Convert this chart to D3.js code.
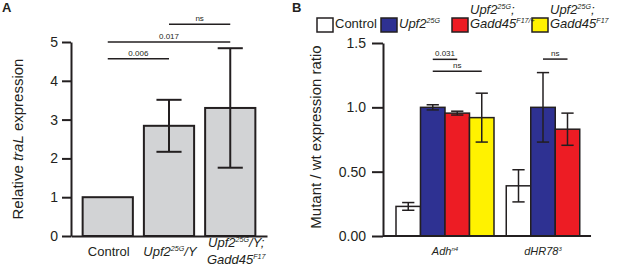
<!DOCTYPE html>
<html>
<head>
<meta charset="utf-8">
<script src="https://cdn.jsdelivr.net/npm/d3@7"></script>
<style>
body { margin: 0; background: #fff; }
svg text { font-family: "Liberation Sans", Arial, sans-serif; fill: #231f20; }
</style>
</head>
<body>
<div id="chart"></div>
<script>

// ---- Panel A data
var groupsA = ["Control", "Upf2^{25G}/Y", "Upf2^{25G}/Y;|Gadd45^{F17}"];
var italicA = [false, true, true];
var meanA = [1.0, 2.84, 3.3];
var errA = [0, 0.67, 1.54];
var ticksA = [0, 1, 2, 3, 4, 5];
var sigA = [
    { from: 0, to: 1, y: 4.57, label: "0.006" },
    { from: 0, to: 2, y: 5.0, label: "0.017" },
    { from: 1, to: 2, y: 5.46, label: "ns" }
];

// ---- Panel B data
var genotypes = ["Control", "Upf2^{25G}", "Upf2^{25G};|Gadd45^{F17/+}", "Upf2^{25G};|Gadd45^{F17}"];
var genotypeColors = ["#ffffff", "#2e3192", "#ed1c24", "#fff200"];
var genes = ["Adh^{n4}", "dHR78^{3}"];
var adhMean = [0.23, 1.0, 0.955, 0.92];
var adhErr = [0.03, 0.02, 0.015, 0.19];
var dhrMean = [0.39, 1.0, 0.83];
var dhrErr = [0.125, 0.27, 0.125];
var ticksB = [0, 0.5, 1.0, 1.5];
var tickLabelsB = ["0.00", "0.50", "1.0", "1.5"];
var sigB = [
    { gene: 0, from: 1, to: 2, y: 1.373, label: "0.031" },
    { gene: 0, from: 1, to: 3, y: 1.28, label: "ns" },
    { gene: 1, from: 1, to: 2, y: 1.375, label: "ns" }
];

var width = 617, height = 266;
var ink = "#231f20";

var svg = d3.select("#chart").append("svg")
    .attr("width", width)
    .attr("height", height);

// writes "abc^{sup}def" as tspans, size in px
function richText(sel, str, italic, size) {
    var parts = str.split(/(\^\{[^}]*\})/);
    var shifted = false;
    parts.forEach(function(p) {
        if (!p) return;
        var t = sel.append("tspan");
        if (p.charAt(0) === "^") {
            t.text(p.slice(2, -1))
                .style("font-size", (size * 0.55) + "px")
                .attr("dy", -size * 0.38);
            shifted = true;
        } else {
            t.text(p).style("font-size", size + "px");
            if (shifted) { t.attr("dy", size * 0.38); shifted = false; }
        }
        if (italic) t.style("font-style", "italic");
    });
}

function multiLine(g, str, x, y, italic, size, lineH, anchor) {
    str.split("|").forEach(function(line, i) {
        var t = g.append("text")
            .attr("x", x)
            .attr("y", y + i * lineH)
            .attr("text-anchor", anchor);
        richText(t, line, italic, size);
    });
}

function styleAxis(g, w) {
    g.select(".domain").attr("stroke", ink).attr("stroke-width", w);
    g.selectAll(".tick line").attr("stroke", ink).attr("stroke-width", w);
    g.selectAll(".tick text").style("font-size", "14px").attr("fill", ink);
}

// panel letters
svg.append("text").attr("x", 2).attr("y", 12).style("font-size", "13px").style("font-weight", "bold").text("A");
svg.append("text").attr("x", 292).attr("y", 12).style("font-size", "13px").style("font-weight", "bold").text("B");


/*
 *  Panel A
 */
var xA = d3.scaleBand()
    .domain(groupsA)
    .range([71, 267])
    .paddingInner(0.18)
    .paddingOuter(0.19);

var yA = d3.scaleLinear()
    .domain([0, 5])
    .range([236, 42]);

var gA = svg.append("g");

gA.selectAll(".barA")
    .data(meanA)
    .enter().append("rect")
    .attr("class", "barA")
    .attr("x", function(d, i) { return xA(groupsA[i]); })
    .attr("y", function(d) { return yA(d); })
    .attr("width", xA.bandwidth())
    .attr("height", function(d) { return yA(0) - yA(d); })
    .attr("fill", "#d2d3d5")
    .attr("stroke", ink)
    .attr("stroke-width", 2);

// error bars
meanA.forEach(function(m, i) {
    if (!errA[i]) return;
    var cx = xA(groupsA[i]) + xA.bandwidth() / 2;
    var cap = xA.bandwidth() / 4;
    gA.append("line").attr("x1", cx).attr("x2", cx)
        .attr("y1", yA(m + errA[i])).attr("y2", yA(m - errA[i]))
        .attr("stroke", ink).attr("stroke-width", 2);
    [m + errA[i], m - errA[i]].forEach(function(v) {
        gA.append("line").attr("x1", cx - cap).attr("x2", cx + cap)
            .attr("y1", yA(v)).attr("y2", yA(v))
            .attr("stroke", ink).attr("stroke-width", 2);
    });
});

var yAxisA = gA.append("g")
    .attr("transform", "translate(71,0)")
    .call(d3.axisLeft(yA).tickValues(ticksA).tickSize(9).tickPadding(4).tickSizeOuter(0)
        .tickFormat(d3.format("d")));
styleAxis(yAxisA, 2);

var xAxisA = gA.append("g")
    .attr("transform", "translate(0," + yA(0) + ")")
    .call(d3.axisBottom(xA).tickSize(0).tickSizeOuter(0).tickFormat(""));
styleAxis(xAxisA, 2);

// category labels
groupsA.forEach(function(g, i) {
    var cx = xA(g) + xA.bandwidth() / 2;
    var lines = g.split("|").length;
    multiLine(gA, g, cx + (lines > 1 ? 6 : 1), lines > 1 ? 247 : 256, italicA[i], 13, 17, "middle");
});

// significance brackets
sigA.forEach(function(s) {
    var x1 = xA(groupsA[s.from]) + xA.bandwidth() / 2;
    var x2 = xA(groupsA[s.to]) + xA.bandwidth() / 2;
    gA.append("line").attr("x1", x1).attr("x2", x2)
        .attr("y1", yA(s.y)).attr("y2", yA(s.y))
        .attr("stroke", ink).attr("stroke-width", 1.5);
    gA.append("text").attr("x", (x1 + x2) / 2).attr("y", yA(s.y) - 3)
        .attr("text-anchor", "middle").style("font-size", "8px").text(s.label);
});

// y title
var tA = gA.append("text")
    .attr("transform", "translate(22.5,139) rotate(-90)")
    .attr("text-anchor", "middle")
    .style("font-size", "15px");
tA.append("tspan").text("Relative ");
tA.append("tspan").style("font-style", "italic").text("traL");
tA.append("tspan").text(" expression");


/*
 *  Panel B
 */
// one slot per bar, half a slot between the gene groups
var groupStart = [0, 4.5];
var slotX = d3.scaleLinear()
    .domain([0, 8])
    .range([396, 592]);
var barW = slotX(1) - slotX(0);

var yB = d3.scaleLinear()
    .domain([0, 1.5])
    .range([236, 43]);

var gB = svg.append("g");

var barsB = [];
[adhMean, dhrMean].forEach(function(means, gi) {
    var errs = gi === 0 ? adhErr : dhrErr;
    means.forEach(function(m, k) {
        barsB.push({ gene: gi, geno: k, mean: m, err: errs[k] });
    });
});

gB.selectAll(".barB")
    .data(barsB)
    .enter().append("rect")
    .attr("class", "barB")
    .attr("x", function(d) { return slotX(groupStart[d.gene] + d.geno); })
    .attr("y", function(d) { return yB(d.mean); })
    .attr("width", barW)
    .attr("height", function(d) { return yB(0) - yB(d.mean); })
    .attr("fill", function(d) { return genotypeColors[d.geno]; })
    .attr("stroke", ink)
    .attr("stroke-width", 1.5);

barsB.forEach(function(d) {
    var cx = slotX(groupStart[d.gene] + d.geno + 0.5);
    var cap = barW / 4;
    gB.append("line").attr("x1", cx).attr("x2", cx)
        .attr("y1", yB(d.mean + d.err)).attr("y2", yB(d.mean - d.err))
        .attr("stroke", ink).attr("stroke-width", 1.5);
    [d.mean + d.err, d.mean - d.err].forEach(function(v) {
        gB.append("line").attr("x1", cx - cap).attr("x2", cx + cap)
            .attr("y1", yB(v)).attr("y2", yB(v))
            .attr("stroke", ink).attr("stroke-width", 1.5);
    });
});

var yAxisB = gB.append("g")
    .attr("transform", "translate(383,0)")
    .call(d3.axisLeft(yB).tickValues(ticksB).tickSize(11).tickPadding(6).tickSizeOuter(0)
        .tickFormat(function(d, i) { return tickLabelsB[i]; }));
styleAxis(yAxisB, 2);

gB.append("line")
    .attr("x1", slotX(-0.53)).attr("x2", slotX(7.96))
    .attr("y1", yB(0)).attr("y2", yB(0))
    .attr("stroke", ink).attr("stroke-width", 2);

// gene labels, centred under the bars of each group
genes.forEach(function(g, gi) {
    var n = gi === 0 ? adhMean.length : dhrMean.length;
    var cx = slotX(groupStart[gi] + n / 2);
    multiLine(gB, g, cx, 255, true, 11, 12, "middle");
});

sigB.forEach(function(s) {
    var x1 = slotX(groupStart[s.gene] + s.from + 0.5);
    var x2 = slotX(groupStart[s.gene] + s.to + 0.5);
    gB.append("line").attr("x1", x1).attr("x2", x2)
        .attr("y1", yB(s.y)).attr("y2", yB(s.y))
        .attr("stroke", ink).attr("stroke-width", 1.5);
    gB.append("text").attr("x", (x1 + x2) / 2).attr("y", yB(s.y) - 3)
        .attr("text-anchor", "middle").style("font-size", "8px").text(s.label);
});

var tB = gB.append("text")
    .attr("transform", "translate(321,137) rotate(-90)")
    .attr("text-anchor", "middle")
    .style("font-size", "15px")
    .text("Mutant / wt expression ratio");

// legend: boxes first so the labels sit on top of them
var legendX = [317, 381, 452, 532];
var legend = svg.append("g");
legend.selectAll("rect")
    .data(genotypes)
    .enter().append("rect")
    .attr("x", function(d, i) { return legendX[i]; })
    .attr("y", 18)
    .attr("width", 16).attr("height", 14)
    .attr("fill", function(d, i) { return genotypeColors[i]; })
    .attr("stroke", ink).attr("stroke-width", 1.5);
genotypes.forEach(function(g, i) {
    var twoLines = g.indexOf("|") >= 0;
    multiLine(legend, g, legendX[i] + 18, twoLines ? 14 : 28, i > 0, 13, 14, "start");
});

</script>
</body>
</html>
